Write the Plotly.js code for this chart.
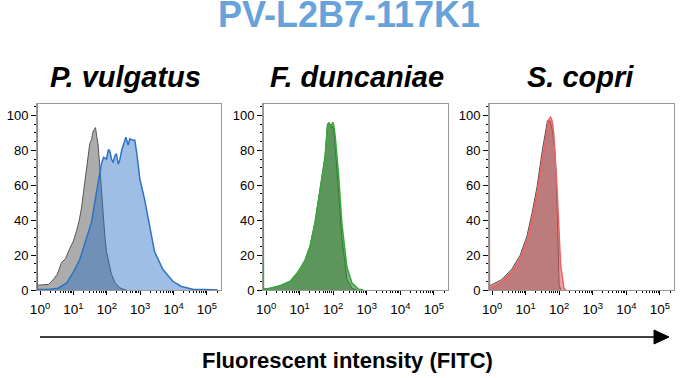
<!DOCTYPE html>
<html>
<head>
<meta charset="utf-8">
<script src="https://cdn.plot.ly/plotly-3.0.1.min.js"></script>
<style>html,body{margin:0;padding:0;background:#fff}#chart{width:680px;height:378px}</style>
</head>
<body>
<div id="chart"></div>
<script>
// ---------- data ----------
const mainTitle = 'PV-L2B7-117K1';
const panelTitles = ['P. vulgatus', 'F. duncaniae', 'S. copri'];
const axisTitle = 'Fluorescent intensity (FITC)';
const yTickVals = [0, 20, 40, 60, 80, 100];
const xTickVals = [1, 10, 100, 1000, 10000, 100000];
const xTickText = ['10<sup>0</sup>', '10<sup>1</sup>', '10<sup>2</sup>', '10<sup>3</sup>', '10<sup>4</sup>', '10<sup>5</sup>'];

// Panel 1: P. vulgatus — control (grey) and antibody (blue)
const pvCtrlX = [0.81, 1.2, 1.8, 2.5, 3.3, 4.4, 5.8, 7.9, 10, 12.5, 15, 17.5, 21, 24.6, 28, 31, 35, 39, 43, 46, 50, 55, 62, 69, 78, 88, 98, 115, 138, 180, 245, 320, 389];
const pvCtrlY = [2.7, 2.9, 3.2, 6, 9, 15.7, 18, 24, 28, 34, 40, 47, 58, 70, 78, 84, 86, 91, 92, 93, 88, 83, 70, 56, 40, 30, 22, 15, 9, 4, 1.3, 0.4, 0];
const pvAbX = [0.81, 0.83, 2.0, 3.5, 6.3, 9.8, 15.6, 24.6, 35, 49, 62, 69, 80, 98, 112, 123, 138, 155, 175, 195, 220, 245, 280, 309, 340, 372, 436, 490, 550, 692, 795, 977, 1350, 1905, 2690, 4790, 9550, 17000, 38000, 85000, 210000];
const pvAbY = [120, 0.3, 0.5, 1, 4, 10, 17.6, 29, 39, 56, 68, 72, 76, 75, 80.5, 79.5, 75, 73, 77, 78, 72, 74.5, 80, 83, 85.5, 87.5, 83, 86.6, 86, 85.6, 78, 63.5, 52, 37, 22, 11.7, 5, 2, 0.5, 0.3, 0];

// Panel 2: F. duncaniae — control (grey) and antibody (green)
const fdCtrlX = [0.81, 0.93, 1.32, 2.63, 5.25, 9.1, 14.5, 20.4, 28.8, 40.7, 57.5, 67.6, 75, 81.3, 90, 97.7, 105, 115, 145, 182, 257, 363, 500];
const fdCtrlY = [0.5, 0.6, 1, 2.5, 5, 10.5, 17, 25, 39, 58, 77, 95, 96, 95, 93, 94, 90, 82, 57, 30, 6, 1, 0];
const fdAbX = [0.81, 0.84, 0.93, 1.32, 2.63, 5.25, 9.1, 14.5, 20.4, 28.8, 40.7, 57.5, 67.6, 75, 81.3, 90, 97.7, 105, 115, 145, 182, 257, 363, 575, 800];
const fdAbY = [120, 0.3, 0.5, 1, 2.5, 5, 10.5, 17, 25, 38.5, 57, 76, 94, 95, 93, 95, 96, 94, 88, 66, 38, 13, 4, 0.4, 0];

// Panel 3: S. copri — control (grey) and antibody (red)
const scCtrlX = [0.81, 0.98, 1.95, 3.89, 6.92, 11, 15.5, 21.9, 30.9, 38.9, 44.7, 49, 52.5, 58.9, 61.7, 74.1, 82, 89.1, 95, 100, 112];
const scCtrlY = [2.5, 3, 6, 12, 20, 31, 44, 59, 79, 92, 97, 96, 97, 94, 92, 80, 65, 40, 15, 3, 0];
const scAbX = [0.81, 0.84, 0.98, 1.95, 3.89, 6.92, 11, 15.5, 21.9, 30.9, 38.9, 49, 55, 58.9, 64, 69.2, 87.1, 110, 138, 160];
const scAbY = [120, 1.5, 1.5, 4.7, 10.4, 18, 28, 40, 55, 74, 87, 97.5, 99, 98, 95, 89, 57, 15, 1, 0];

// ---------- layout ----------
const W = 680, H = 378;
const px = v => v / W;
const py = v => 1 - v / H;
const boxes = [[37, 221], [263, 448], [489, 674]];
const boxTop = 104, boxBottom = 290;
const titleCenters = [125, 357, 580];

const FONT = 'Liberation Sans, Arial, Helvetica, sans-serif';

function hist(x, y, fill, line, lw, ax) {
  return {
    x: x, y: y, type: 'scatter', mode: 'lines', fill: 'tozeroy',
    fillcolor: fill, line: {color: line, width: lw},
    xaxis: 'x' + ax, yaxis: 'y' + ax, hoverinfo: 'skip', showlegend: false
  };
}

const grayFill = 'rgba(90,90,90,0.5)', grayLine = '#555555';
const data = [
  hist(pvCtrlX, pvCtrlY, grayFill, grayLine, 1, ''),
  hist(pvAbX, pvAbY, 'rgba(40,110,200,0.45)', '#2f72c4', 1.5, ''),
  hist(fdCtrlX, fdCtrlY, grayFill, grayLine, 1, '2'),
  hist(fdAbX, fdAbY, 'rgba(40,135,40,0.6)', '#3aa83a', 1.5, '2'),
  hist(scCtrlX, scCtrlY, grayFill, grayLine, 1, '3'),
  hist(scAbX, scAbY, 'rgba(205,75,75,0.5)', '#f06060', 1.5, '3')
];

const minorVals = [];
for (let d = 0; d < 6; d++) for (let k = 2; k <= 9; k++) minorVals.push(k * Math.pow(10, d));

function xAxis(i) {
  return {
    type: 'log', range: [-0.09, 5.42], domain: [px(boxes[i][0]), px(boxes[i][1])],
    anchor: i === 0 ? 'y' : 'y' + (i + 1),
    tickmode: 'array', tickvals: xTickVals, ticktext: xTickText,
    ticks: 'outside', ticklen: 4, tickwidth: 1, tickcolor: '#000',
    ticklabelstandoff: 3,
    minor: {tickmode: 'array', tickvals: minorVals, ticks: 'outside', ticklen: 2, tickcolor: '#000', showgrid: false},
    showline: true, linecolor: '#999', linewidth: 1, mirror: true,
    showgrid: false, zeroline: false, fixedrange: true,
    tickfont: {family: FONT, size: 13.5, color: '#000'}
  };
}
function yAxis(i) {
  return {
    range: [0, 106.5], domain: [py(boxBottom), py(boxTop)],
    anchor: i === 0 ? 'x' : 'x' + (i + 1),
    tickmode: 'array', tickvals: yTickVals,
    ticks: 'outside', ticklen: 5, tickwidth: 1, tickcolor: '#000',
    minor: {dtick: 5, ticks: 'outside', ticklen: 2, tickcolor: '#000', showgrid: false},
    showline: true, linecolor: '#999', linewidth: 1, mirror: true,
    showgrid: false, zeroline: false, fixedrange: true,
    tickfont: {family: FONT, size: 13, color: '#000'}
  };
}

const annotations = [
  {text: '<b>' + mainTitle + '</b>', x: px(349), y: py(15), xref: 'paper', yref: 'paper',
   xanchor: 'center', yanchor: 'middle', showarrow: false,
   font: {family: FONT, size: 36, color: '#68a2da'}},
  {text: '<b>' + axisTitle + '</b>', x: px(347), y: py(360), xref: 'paper', yref: 'paper',
   xanchor: 'center', yanchor: 'middle', showarrow: false,
   font: {family: FONT, size: 22, color: '#000'}}
];
panelTitles.forEach((t, i) => annotations.push({
  text: '<b><i>' + t + '</i></b>', x: px(titleCenters[i]), y: py(76.6), xref: 'paper', yref: 'paper',
  xanchor: 'center', yanchor: 'middle', showarrow: false,
  font: {family: FONT, size: 29, color: '#000'}
}));

const arrowY = 337;
const shapes = [
  {type: 'line', xref: 'paper', yref: 'paper', x0: px(40), x1: px(658), y0: py(arrowY), y1: py(arrowY),
   line: {color: '#000', width: 1.5}},
  {type: 'path', xref: 'paper', yref: 'paper',
   path: 'M ' + px(654) + ',' + py(arrowY - 7) + ' L ' + px(669) + ',' + py(arrowY) + ' L ' + px(654) + ',' + py(arrowY + 7) + ' Z',
   fillcolor: '#000', line: {color: '#000', width: 1}}
];

const layout = {
  width: W, height: H, margin: {l: 0, r: 0, t: 0, b: 0},
  paper_bgcolor: '#fff', plot_bgcolor: 'rgba(0,0,0,0)',
  showlegend: false,
  xaxis: xAxis(0), xaxis2: xAxis(1), xaxis3: xAxis(2),
  yaxis: yAxis(0), yaxis2: yAxis(1), yaxis3: yAxis(2),
  annotations: annotations, shapes: shapes
};

Plotly.newPlot('chart', data, layout, {staticPlot: true, displayModeBar: false});
</script>
</body>
</html>
